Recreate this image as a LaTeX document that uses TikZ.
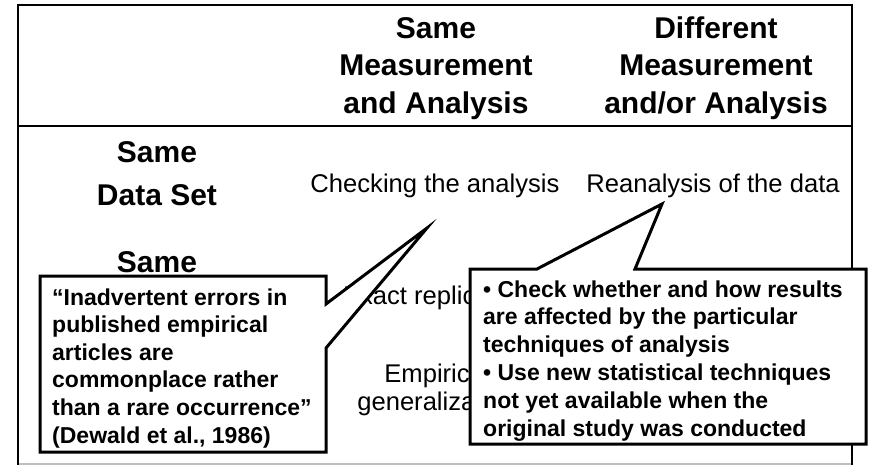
\documentclass[tikz,border=0pt]{standalone}
\usepackage{fontspec}
\setmainfont{Liberation Sans}
\begin{document}
\begin{tikzpicture}[x=1pt,y=-1pt,
  hdr/.style={font=\fontsize{30}{36}\selectfont\bfseries, anchor=base, inner sep=0pt},
  cell/.style={font=\fontsize{25.6}{30}\selectfont, anchor=base, inner sep=0pt},
  note/.style={font=\fontsize{23}{27.6}\selectfont\bfseries, anchor=base west, inner sep=0pt},
  frameline/.style={line width=2pt, line cap=rect},
  calloutshape/.style={draw=black, fill=white, line width=3pt, line join=miter}]
\useasboundingbox (0,0) rectangle (873,466);

% frame
\coordinate (TL) at (18,5);
\coordinate (TR) at (852,5);
\coordinate (BR) at (852,464);
\coordinate (BL) at (18,464);
\coordinate (SL) at (18,126);
\coordinate (SR) at (852,126);
\draw[frameline, draw=black!25] (BL) -- (BR);
\draw[frameline] (BL) -- (TL) -- (TR) -- (BR);
\draw[line width=1.5pt] (SL) -- (SR);

% column headers
\node[hdr] (h1a) at (436,38) {Same};
\node[hdr] (h1b) at (436,75.5) {Measurement};
\node[hdr] (h1c) at (436,113) {and Analysis};
\node[hdr] (h2a) at (716,38) {Different};
\node[hdr] (h2b) at (716,75.5) {Measurement};
\node[hdr] (h2c) at (716,113) {and/or Analysis};

% row labels
\node[hdr] (r1a) at (157,162) {Same};
\node[hdr] (r1b) at (157,205) {Data Set};
\node[hdr] (r2a) at (157,272) {Same};

% cells
\node[cell] (c11) at (435,192) {Checking the analysis};
\node[cell] (c12) at (713,192) {Reanalysis of the data};
\node[cell] (c21) at (437,304) {Exact replication};
\node[cell] (c31a) at (437,382) {Empirical};
\node[cell] (c31b) at (437,410) {generalization};

% left callout
\coordinate (la) at (40,276);
\coordinate (lb) at (326,276);
\coordinate (lc) at (326,304);
\coordinate (ltip) at (427,228);
\coordinate (ld) at (326,348);
\coordinate (le) at (326,452);
\coordinate (lf) at (40,452);
\draw[calloutshape] (la) -- (lb) -- (lc) -- (ltip) -- (ld) -- (le) -- (lf) -- cycle;
\node[note] (n1) at (52,305) {“Inadvertent errors in};
\node[note] (n2) at (52,332.6) {published empirical};
\node[note] (n3) at (52,360.2) {articles are};
\node[note] (n4) at (52,387.8) {commonplace rather};
\node[note] (n5) at (52,415.4) {than a rare occurrence”};
\node[note] (n6) at (52,443) {(Dewald et al., 1986)};

% right callout
\coordinate (ra) at (470,269);
\coordinate (rp1) at (537,269);
\coordinate (rtip) at (662,204);
\coordinate (rp2) at (635,269);
\coordinate (rb) at (866,269);
\coordinate (rc) at (866,444);
\coordinate (rd) at (470,444);
\draw[calloutshape] (ra) -- (rp1) -- (rtip) -- (rp2) -- (rb) -- (rc) -- (rd) -- cycle;
\node[note] (m1) at (483,297) {• Check whether and how results};
\node[note] (m2) at (483,324.8) {are affected by the particular};
\node[note] (m3) at (483,352.6) {techniques of analysis};
\node[note] (m4) at (483,380.4) {• Use new statistical techniques};
\node[note] (m5) at (483,408.2) {not yet available when the};
\node[note] (m6) at (483,436) {original study was conducted};
\end{tikzpicture}
\end{document}
